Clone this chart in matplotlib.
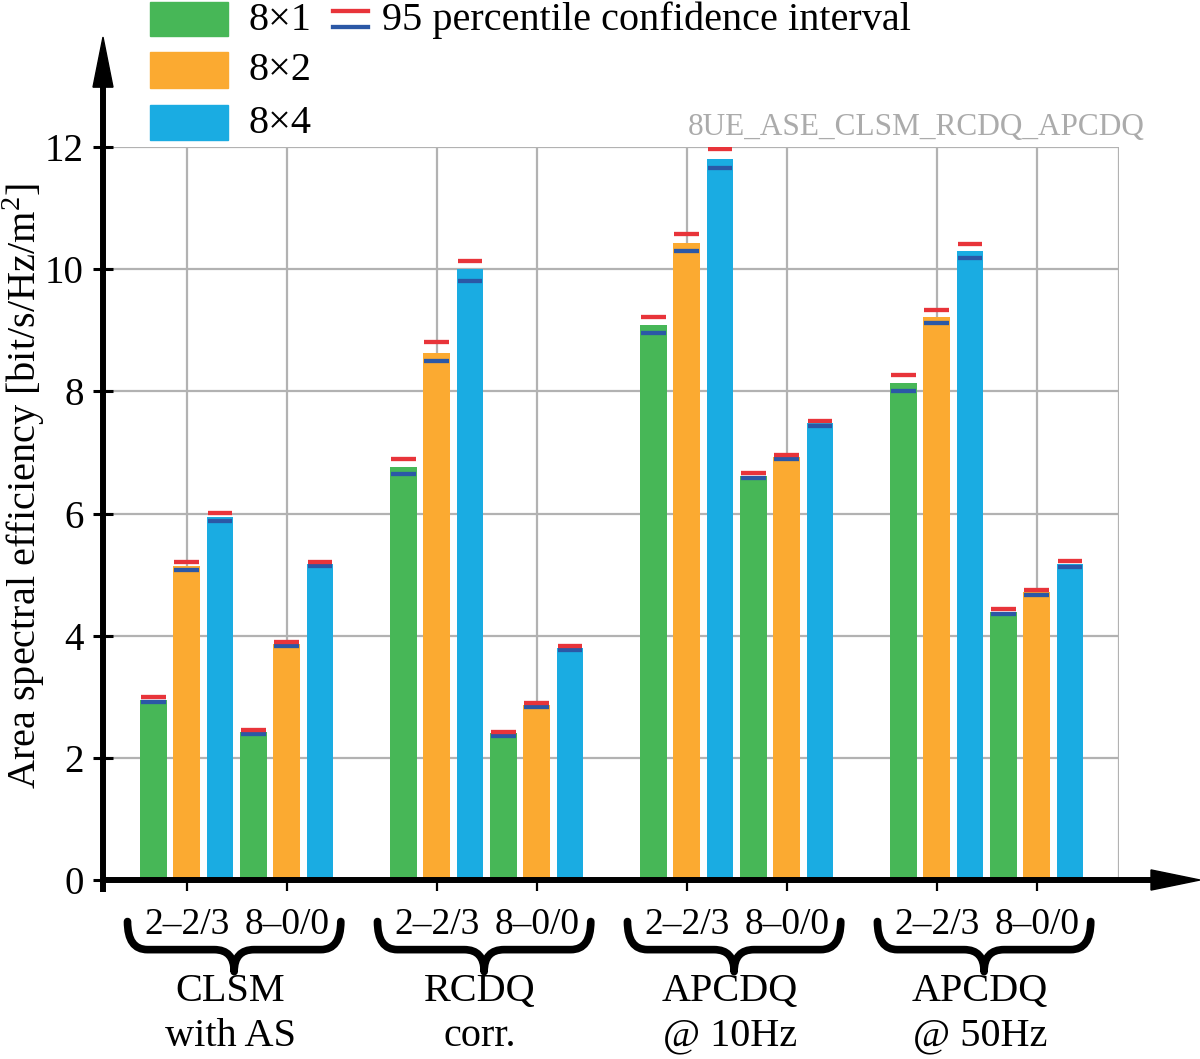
import matplotlib as mpl; mpl.use("Agg")
import matplotlib.pyplot as plt
from matplotlib.patches import Rectangle, PathPatch
from matplotlib.path import Path
from matplotlib.lines import Line2D
import numpy as np

plt.rcParams["font.family"] = ["Liberation Serif", "DejaVu Serif"]
plt.rcParams["mathtext.fontset"] = "custom"
plt.rcParams["mathtext.rm"] = "Liberation Serif"

# ---- data ----
GROUPS = [("CLSM", "with AS"), ("RCDQ", "corr."), ("APCDQ", "@ 10Hz"), ("APCDQ", "@ 50Hz")]
CONFIGS = ["2\u20132/3", "8\u20130/0"]
ANTENNAS = ["8\u00d71", "8\u00d72", "8\u00d74"]
# order: CLSM 2-2/3, CLSM 8-0/0, RCDQ 2-2/3, RCDQ 8-0/0, APCDQ10 ..., APCDQ50 ...
ase_8x1 = [2.95, 2.42, 6.76, 2.40, 9.09, 6.62, 8.13, 4.39]
ase_8x2 = [5.14, 3.86, 8.63, 2.86, 10.43, 6.92, 9.22, 4.71]
ase_8x4 = [5.95, 5.17, 10.00, 3.80, 11.80, 7.48, 10.30, 5.17]
lo_8x1 = [2.91, 2.39, 6.65, 2.36, 8.96, 6.58, 8.00, 4.35]
lo_8x2 = [5.08, 3.83, 8.50, 2.83, 10.30, 6.89, 9.12, 4.67]
lo_8x4 = [5.88, 5.14, 9.81, 3.77, 11.66, 7.43, 10.18, 5.12]
hi_8x1 = [2.99, 2.46, 6.89, 2.43, 9.21, 6.66, 8.26, 4.43]
hi_8x2 = [5.21, 3.90, 8.81, 2.90, 10.58, 6.96, 9.33, 4.75]
hi_8x4 = [6.01, 5.21, 10.13, 3.83, 11.97, 7.52, 10.42, 5.22]
TAG = "8UE_ASE_CLSM_RCDQ_APCDQ"

BAR_COLORS = ["#47B757", "#FBAA31", "#1AACE2"]
RED = "#E8343A"; DBLUE = "#2B58A6"; GRID = "#B2B2B2"

W, H = 1200, 1059
fig = plt.figure(figsize=(W/100, H/100), dpi=100)
fx = lambda px: px / W
fy = lambda py: 1 - py / H

# axes box: x px 103..1119, y px 880 (0) .. 147 (12)
ax = fig.add_axes([fx(103), fy(880), fx(1119) - fx(103), fy(147) - fy(880)])
X0, X1 = (103 - 153.5) / 33.33, (1119 - 153.5) / 33.33
ax.set_xlim(X0, X1); ax.set_ylim(0, 12)
for s in ax.spines.values(): s.set_visible(False)

base = np.array([g * 7.5 + c * 3 for g in range(4) for c in range(2)])
series = [(ase_8x1, lo_8x1, hi_8x1), (ase_8x2, lo_8x2, hi_8x2), (ase_8x4, lo_8x4, hi_8x4)]

# grid
ax.hlines(np.arange(2, 13, 2), X0, X1, colors=GRID, lw=1.6, zorder=1)
ax.vlines(list(base + 1) + [X1], 0, 12, colors=GRID, lw=1.6, zorder=1)

for j, (m, lo, hi) in enumerate(series):
    x = base + j
    ax.bar(x, m, width=0.8, color=BAR_COLORS[j], zorder=2)
    ax.hlines(lo, x - 0.37, x + 0.37, colors=DBLUE, lw=3.1, zorder=3)
    ax.hlines(hi, x - 0.37, x + 0.37, colors=RED, lw=3.1, zorder=4)

# axes with arrows
ax.plot([X0, X0], [-0.2, 12.98], color="k", lw=4.3, clip_on=False, zorder=5, solid_capstyle="butt")
ax.fill([X0 - 0.3, X0 + 0.3, X0], [12.98, 12.98, 13.8], color="k", clip_on=False, zorder=5)
xa = (1151 - 153.5) / 33.33; xt = (1200 - 153.5) / 33.33
ax.plot([X0 - 0.1, xa], [0, 0], color="k", lw=4.3, clip_on=False, zorder=5, solid_capstyle="butt")
ax.fill([xa, xa, xt], [0.165, -0.165, 0], color="k", clip_on=False, zorder=5)

ax.set_yticks(np.arange(0, 13, 2))
ax.set_yticklabels([str(v) for v in range(0, 13, 2)])
ax.tick_params(axis="y", direction="inout", length=14, width=2.2, pad=7, labelsize=28)
ax.set_xticks(base + 1)
ax.set_xticklabels(CONFIGS * 4)
ax.tick_params(axis="x", direction="inout", length=16, width=1.6, pad=12, labelsize=27)

# braces and group labels
def brace(c, w=3.2, y0=-0.68, y1=-1.14, y2=-1.5, r=0.6):
    verts = [(c - w, y0), (c - w, y1), (c - w + r, y1), (c - r, y1),
             (c, y1), (c, y2), (c, y1), (c + r, y1), (c + w - r, y1),
             (c + w, y1), (c + w, y0)]
    codes = [Path.MOVETO, Path.CURVE3, Path.CURVE3, Path.LINETO,
             Path.CURVE3, Path.CURVE3, Path.CURVE3, Path.CURVE3, Path.LINETO,
             Path.CURVE3, Path.CURVE3]
    ax.add_patch(PathPatch(Path(verts, codes), fill=False, lw=5.5, color="k",
                           clip_on=False, capstyle="round", joinstyle="round"))

for g, (l1, l2) in enumerate(GROUPS):
    c = g * 7.5 + 2.5
    brace(c - 0.08)
    ax.text(c - 0.2, (880 - 991) / 61.08, l1, ha="center", va="center", fontsize=29, clip_on=False)
    ax.text(c - 0.2, (880 - 1036) / 61.08, l2, ha="center", va="center", fontsize=29, clip_on=False)

ax.text((916 - 153.5) / 33.33, (880 - 128) / 61.08, TAG, ha="center", va="center",
        fontsize=22.5, color="#ABABAB", clip_on=False)

fig.text(fx(24), fy(486), r"Area spectral efficiency [bit/s/Hz/m$^{\mathrm{2}}$]", rotation=90,
         ha="center", va="center", fontsize=29)

# legend (manual)
for j, (y0, y1) in enumerate([(2, 36), (52, 88), (105, 140)]):
    fig.add_artist(Rectangle((fx(150), fy(y1)), fx(228) - fx(150), fy(y0) - fy(y1),
                             transform=fig.transFigure, color=BAR_COLORS[j]))
    fig.text(fx(248), fy((y0 + y1) / 2 + 1), ANTENNAS[j], ha="left", va="center", fontsize=29)
fig.add_artist(Line2D([fx(333), fx(368)], [fy(11), fy(11)], color=RED, lw=3.1, transform=fig.transFigure))
fig.add_artist(Line2D([fx(333), fx(368)], [fy(26.5), fy(26.5)], color=DBLUE, lw=3.1, transform=fig.transFigure))
fig.text(fx(382), fy(20), "95 percentile confidence interval", ha="left", va="center", fontsize=29)

fig.savefig("out.png", dpi=100)
